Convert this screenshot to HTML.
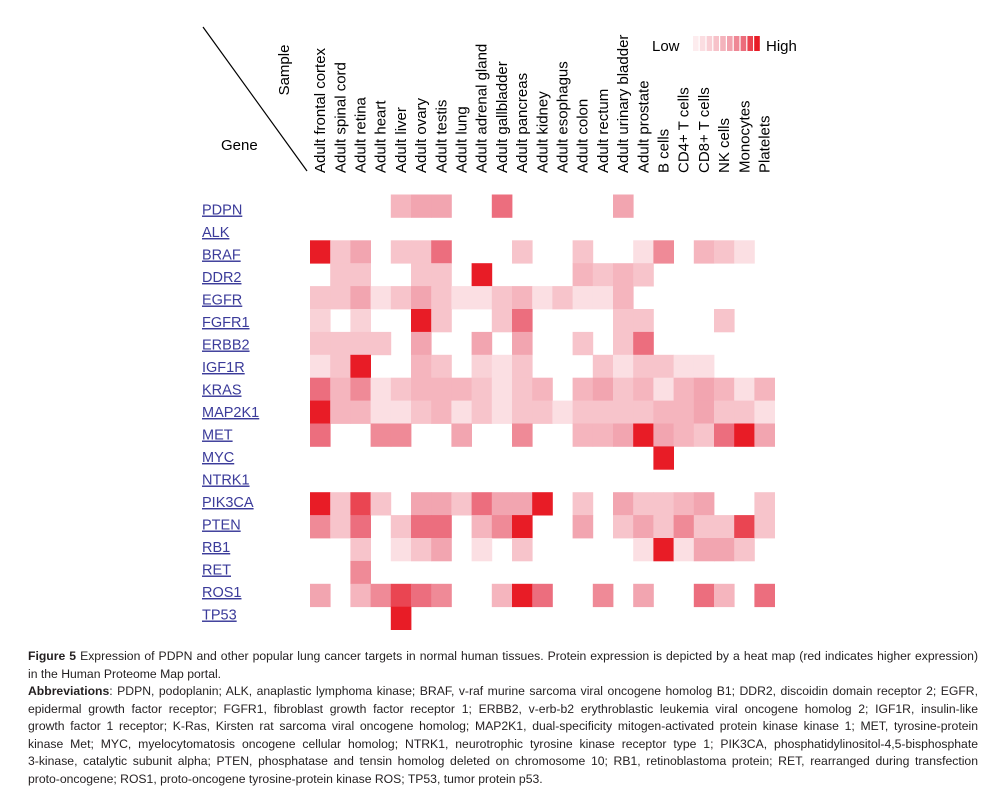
<!DOCTYPE html>
<html><head><meta charset="utf-8"><style>
body{margin:0;background:#fff;width:986px;height:792px;overflow:hidden;position:relative;font-family:"Liberation Sans",Arial,sans-serif}
#cap{position:absolute;left:28px;top:648px;width:950px;font-size:12.2px;line-height:17.5px;color:#231f20}
#cap div{text-align:justify;text-align-last:justify;white-space:nowrap}
#cap div.last{text-align-last:left}
#cap b{font-weight:bold}
</style></head><body>
<svg id="chart" width="986" height="640" style="position:absolute;left:0;top:0" font-family="Liberation Sans, Arial, sans-serif">
<line x1="203" y1="27" x2="307" y2="171" stroke="#000" stroke-width="1.2"/>
<text transform="translate(289,70) rotate(-90)" text-anchor="middle" font-size="15">Sample</text>
<text x="221" y="150" font-size="15">Gene</text>
<text x="652" y="51" font-size="15">Low</text>
<text x="766" y="51" font-size="15">High</text>
<g id="legend"></g>
<g id="cols"></g><g id="rows"></g><g id="cells"></g>
</svg>
<div id="cap">
<div><b>Figure 5</b> Expression of PDPN and other popular lung cancer targets in normal human tissues. Protein expression is depicted by a heat map (red indicates higher expression)</div>
<div class="last">in the Human Proteome Map portal.</div>
<div><b>Abbreviations</b>: PDPN, podoplanin; ALK, anaplastic lymphoma kinase; BRAF, v-raf murine sarcoma viral oncogene homolog B1; DDR2, discoidin domain receptor 2; EGFR,</div>
<div>epidermal growth factor receptor; FGFR1, fibroblast growth factor receptor 1; ERBB2, v-erb-b2 erythroblastic leukemia viral oncogene homolog 2; IGF1R, insulin-like</div>
<div>growth factor 1 receptor; K-Ras, Kirsten rat sarcoma viral oncogene homolog; MAP2K1, dual-specificity mitogen-activated protein kinase kinase 1; MET, tyrosine-protein</div>
<div>kinase Met; MYC, myelocytomatosis oncogene cellular homolog; NTRK1, neurotrophic tyrosine kinase receptor type 1; PIK3CA, phosphatidylinositol-4,5-bisphosphate</div>
<div>3-kinase, catalytic subunit alpha; PTEN, phosphatase and tensin homolog deleted on chromosome 10; RB1, retinoblastoma protein; RET, rearranged during transfection</div>
<div class="last">proto-oncogene; ROS1, proto-oncogene tyrosine-protein kinase ROS; TP53, tumor protein p53.</div>
</div>
<script>
const samples=["Adult frontal cortex","Adult spinal cord","Adult retina","Adult heart","Adult liver","Adult ovary","Adult testis","Adult lung","Adult adrenal gland","Adult gallbladder","Adult pancreas","Adult kidney","Adult esophagus","Adult colon","Adult rectum","Adult urinary bladder","Adult prostate","B cells","CD4+ T cells","CD8+ T cells","NK cells","Monocytes","Platelets"];
const genes=["PDPN","ALK","BRAF","DDR2","EGFR","FGFR1","ERBB2","IGF1R","KRAS","MAP2K1","MET","MYC","NTRK1","PIK3CA","PTEN","RB1","RET","ROS1","TP53"];
// expression level 0..5 per gene (rows) x sample (cols)
const expr=[
[0,0,0,0,2.5,3,3,0,0,4,0,0,0,0,0,3,0,0,0,0,0,0,0],
[0,0,0,0,0,0,0,0,0,0,0,0,0,0,0,0,0,0,0,0,0,0,0],
[5,2,3,0,2,2,4,0,0,0,2,0,0,2,0,0,1,3.5,0,2.5,2,1,0],
[0,2,2,0,0,2,2,0,5,0,0,0,0,2.5,2,2.5,2,0,0,0,0,0,0],
[2,2,3,1,2,3,2,1,1,2,2.5,1,2,1,1,2.5,0,0,0,0,0,0,0],
[1.5,0,1.5,0,0,5,2,0,0,2,4,0,0,0,0,2,2,0,0,0,2,0,0],
[2,2,2,2,0,3,0,0,3,0,3,0,0,2,0,2,4,0,0,0,0,0,0],
[1,2,5,0,0,2.5,2,0,1.5,1,2,0,0,0,2,1,2,2,1,1,0,0,0],
[4,2.5,3.5,1,2,2.5,2.5,2.5,2,1,2,2.5,0,2.5,3,2,2.5,1,2.5,3,2.5,1,2.5],
[5,2.5,2.5,1,1,2,2.5,1,2,1,2,2,1,2,2,2,2,2.5,2.5,3,2,2,1],
[4,0,0,3.5,3.5,0,0,3,0,0,3.5,0,0,2.5,2.5,3,5,3,2.5,2,4,5,3],
[0,0,0,0,0,0,0,0,0,0,0,0,0,0,0,0,0,5,0,0,0,0,0],
[0,0,0,0,0,0,0,0,0,0,0,0,0,0,0,0,0,0,0,0,0,0,0],
[5,2,4.5,2,0,3,3,2,4,3,3,5,0,2,0,3,2,2,2.5,3,0,0,2],
[3.5,2,4,0,2,4,4,0,2.5,3.5,5,0,0,3,0,2,3,2,3.5,2,2,4.5,2],
[0,0,2,0,1,2,3,0,1,0,2,0,0,0,0,0,1,5,1,3,3,2,0],
[0,0,3.5,0,0,0,0,0,0,0,0,0,0,0,0,0,0,0,0,0,0,0,0],
[3,0,2.5,3.5,4.5,4,3.5,0,0,2.5,5,4,0,0,3.5,0,3,0,0,4,2.5,0,4],
[0,0,0,0,5,0,0,0,0,0,0,0,0,0,0,0,0,0,0,0,0,0,0]];
const NS="http://www.w3.org/2000/svg";
const x0=310,cw=20.2,y0=194.5,rh=22.9;
const xPos=i=>x0+i*cw, yPos=j=>y0+j*rh;
const pal=[[255,255,255],[251,223,227],[247,196,203],[242,165,176],[236,110,126],[232,28,38]];
function color(v){const a=Math.floor(v),b=Math.min(5,a+1),t=v-a;const c=pal[a].map((p,k)=>Math.round(p+(pal[b][k]-p)*t));return`rgb(${c})`;}
const cells=document.getElementById('cells');
expr.forEach((row,j)=>row.forEach((v,i)=>{if(!v)return;
const r=document.createElementNS(NS,'rect');
r.setAttribute('x',xPos(i));r.setAttribute('y',yPos(j));r.setAttribute('width',cw+0.4);r.setAttribute('height',rh+0.4);r.setAttribute('fill',color(v));


cells.appendChild(r);}));
const cols=document.getElementById('cols');
samples.forEach((s,i)=>{const t=document.createElementNS(NS,'text');
t.setAttribute('transform',`translate(${xPos(i)+cw/2+5},173) rotate(-90)`);t.setAttribute('font-size','15');t.textContent=s;


cols.appendChild(t);});
const rows=document.getElementById('rows');
genes.forEach((g,j)=>{const t=document.createElementNS(NS,'text');
t.setAttribute('x',202);t.setAttribute('y',yPos(j)+20-j*0.4);t.setAttribute('font-size','14.5');t.setAttribute('fill','#3b3b9a');t.setAttribute('text-decoration','underline');t.textContent=g;


rows.appendChild(t);});
const lg=document.getElementById('legend');
for(let k=0;k<10;k++){const r=document.createElementNS(NS,'rect');
r.setAttribute('x',693+k*6.8);r.setAttribute('y',36);r.setAttribute('width',5.6);r.setAttribute('height',15);r.setAttribute('fill',color(0.6+k*0.49));


lg.appendChild(r);}
</script>
</body></html>
